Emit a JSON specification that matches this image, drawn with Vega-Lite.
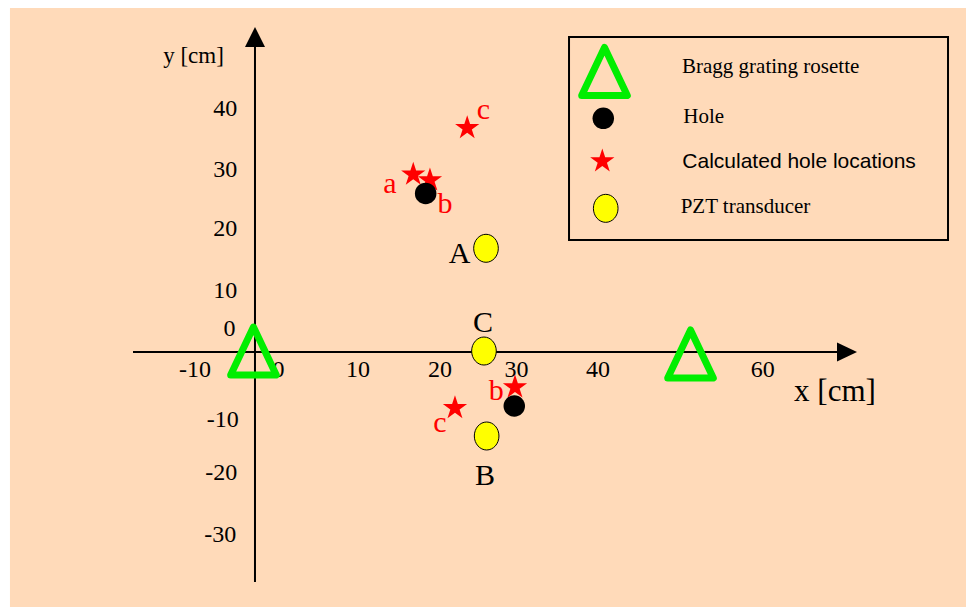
{
  "$schema": "https://vega.github.io/schema/vega-lite/v6.json",
  "width": 966,
  "height": 607,
  "autosize": {"type": "fit", "contains": "padding"},
  "padding": 0,
  "background": "white",
  "config": {"view": {"stroke": null}},
  "datasets": {
    "bg": [{"x": -30.25, "x2": 87.78, "y": 56.39, "y2": -41.8}],
    "box": [{"x": 38.77, "x2": 85.56, "y": 51.64, "y2": 18.36}],
    "axes": [
      {"x": -15.06, "x2": 72.2, "y": 0, "y2": 0},
      {"x": 0, "x2": 0, "y": 51.2, "y2": -37.7}
    ],
    "arrows": [
      {"x": 73.09, "y": 0, "dir": "right"},
      {"x": 0, "y": 51.64, "dir": "up"}
    ],
    "xticks": [
      {"label": "-10", "x": -7.41, "y": -4.1},
      {"label": "0", "x": 2.9, "y": -4.1},
      {"label": "10", "x": 12.72, "y": -4.1},
      {"label": "20", "x": 22.84, "y": -4.1},
      {"label": "30", "x": 32.3, "y": -4.1},
      {"label": "40", "x": 42.35, "y": -4.1},
      {"label": "60", "x": 62.7, "y": -4.1}
    ],
    "yticks": [
      {"label": "40", "x": -2.2, "y": 38.69},
      {"label": "30", "x": -2.2, "y": 28.69},
      {"label": "20", "x": -2.2, "y": 19.0},
      {"label": "10", "x": -2.2, "y": 8.85},
      {"label": "0", "x": -2.4, "y": 2.62},
      {"label": "-10", "x": -2.0, "y": -12.24},
      {"label": "-20", "x": -2.2, "y": -20.98},
      {"label": "-30", "x": -2.3, "y": -31.1}
    ],
    "rosettes": [
      {"x": -0.19, "y": 0.16},
      {"x": 53.77, "y": -0.33},
      {"x": 43.15, "y": 45.98}
    ],
    "stars": [
      {"x": 19.54, "y": 29.1},
      {"x": 21.6, "y": 28.16},
      {"x": 26.2, "y": 36.73},
      {"x": 32.1, "y": -5.77},
      {"x": 24.69, "y": -9.16},
      {"x": 42.88, "y": 31.28}
    ],
    "holes": [
      {"x": 21.07, "y": 26.0},
      {"x": 32.01, "y": -8.85},
      {"x": 43.0, "y": 38.3}
    ],
    "pzt": [
      {"x": 28.52, "y": 17.0},
      {"x": 28.27, "y": 0.16},
      {"x": 28.6, "y": -13.77},
      {"x": 43.3, "y": 23.55}
    ],
    "letters": [
      {"t": "a", "x": 16.67, "y": 26.0, "kind": "calculated"},
      {"t": "b", "x": 23.46, "y": 22.74, "kind": "calculated"},
      {"t": "c", "x": 28.19, "y": 38.15, "kind": "calculated"},
      {"t": "b", "x": 29.8, "y": -7.87, "kind": "calculated"},
      {"t": "c", "x": 22.84, "y": -13.07, "kind": "calculated"},
      {"t": "A", "x": 25.25, "y": 14.54, "kind": "sensor"},
      {"t": "C", "x": 28.15, "y": 3.33, "kind": "sensor"},
      {"t": "B", "x": 28.4, "y": -21.8, "kind": "sensor"}
    ],
    "legendSerif": [
      {"t": "Bragg grating rosette", "x": 52.72, "y": 45.69},
      {"t": "Hole", "x": 52.88, "y": 37.49},
      {"t": "PZT transducer", "x": 52.55, "y": 22.74}
    ],
    "legendSans": [
      {"t": "Calculated hole locations", "x": 52.76, "y": 30.11}
    ],
    "ytitle": [{"t": "y [cm]", "x": -7.59, "y": 47.33}],
    "xtitle": [{"t": "x [cm]", "x": 71.6, "y": -7.98}]
  },
  "encoding": {
    "x": {"field": "x", "type": "quantitative", "scale": {"domain": [-31.48, 87.78], "nice": false, "zero": false}, "axis": null},
    "y": {"field": "y", "type": "quantitative", "scale": {"domain": [-41.8, 57.7], "nice": false, "zero": false}, "axis": null}
  },
  "layer": [
    {
      "data": {"name": "bg"},
      "mark": {"type": "rect", "fill": "#FFDAB9"},
      "encoding": {"x2": {"field": "x2"}, "y2": {"field": "y2"}}
    },
    {
      "data": {"name": "axes"},
      "mark": {"type": "rule", "color": "black", "strokeWidth": 2},
      "encoding": {"x2": {"field": "x2"}, "y2": {"field": "y2"}}
    },
    {
      "data": {"name": "arrows"},
      "mark": {"type": "point", "filled": true, "color": "black", "opacity": 1, "size": 400},
      "encoding": {
        "shape": {"field": "dir", "type": "nominal", "scale": {"domain": ["right", "up"], "range": ["M-1,-0.95L1,0L-1,0.95Z", "M-1,1L0,-1L1,1Z"]}, "legend": null}
      }
    },
    {
      "data": {"name": "xticks"},
      "mark": {"type": "text", "font": "Liberation Serif", "fontSize": 24, "align": "center", "baseline": "alphabetic", "color": "black"},
      "encoding": {"text": {"field": "label"}}
    },
    {
      "data": {"name": "yticks"},
      "mark": {"type": "text", "font": "Liberation Serif", "fontSize": 24, "align": "right", "baseline": "alphabetic", "color": "black"},
      "encoding": {"text": {"field": "label"}}
    },
    {
      "data": {"name": "box"},
      "mark": {"type": "rect", "fillOpacity": 0, "stroke": "black", "strokeWidth": 2},
      "encoding": {"x2": {"field": "x2"}, "y2": {"field": "y2"}}
    },
    {
      "data": {"name": "rosettes"},
      "mark": {"type": "point", "shape": "M0,-1L0.95,1L-0.95,1Z", "size": 2304, "filled": false, "stroke": "#00EE00", "strokeWidth": 7, "strokeJoin": "round", "opacity": 1}
    },
    {
      "data": {"name": "stars"},
      "mark": {"type": "point", "shape": "M0,-1L0.2245,-0.309L0.951,-0.309L0.3633,0.118L0.588,0.809L0,0.382L-0.588,0.809L-0.3633,0.118L-0.951,-0.309L-0.2245,-0.309Z", "size": 650, "filled": true, "color": "#FF0000", "opacity": 1}
    },
    {
      "data": {"name": "holes"},
      "mark": {"type": "point", "shape": "circle", "size": 462, "filled": true, "color": "black", "opacity": 1}
    },
    {
      "data": {"name": "pzt"},
      "mark": {"type": "point", "shape": "M-0.88,0A0.88,1 0 1,0 0.88,0A0.88,1 0 1,0 -0.88,0Z", "size": 784, "filled": true, "fill": "#FFFF00", "stroke": "black", "strokeWidth": 1, "opacity": 1}
    },
    {
      "data": {"name": "letters"},
      "mark": {"type": "text", "font": "Liberation Serif", "fontSize": 30, "align": "center", "baseline": "alphabetic"},
      "encoding": {
        "text": {"field": "t"},
        "color": {"field": "kind", "type": "nominal", "scale": {"domain": ["calculated", "sensor"], "range": ["#FF0000", "black"]}, "legend": null}
      }
    },
    {
      "data": {"name": "legendSerif"},
      "mark": {"type": "text", "font": "Liberation Serif", "fontSize": 21, "align": "left", "baseline": "alphabetic", "color": "black"},
      "encoding": {"text": {"field": "t"}}
    },
    {
      "data": {"name": "legendSans"},
      "mark": {"type": "text", "font": "Liberation Sans", "fontSize": 21, "align": "left", "baseline": "alphabetic", "color": "black"},
      "encoding": {"text": {"field": "t"}}
    },
    {
      "data": {"name": "ytitle"},
      "mark": {"type": "text", "font": "Liberation Serif", "fontSize": 23, "align": "center", "baseline": "alphabetic", "color": "black"},
      "encoding": {"text": {"field": "t"}}
    },
    {
      "data": {"name": "xtitle"},
      "mark": {"type": "text", "font": "Liberation Serif", "fontSize": 31, "align": "center", "baseline": "alphabetic", "color": "black"},
      "encoding": {"text": {"field": "t"}}
    }
  ]
}
